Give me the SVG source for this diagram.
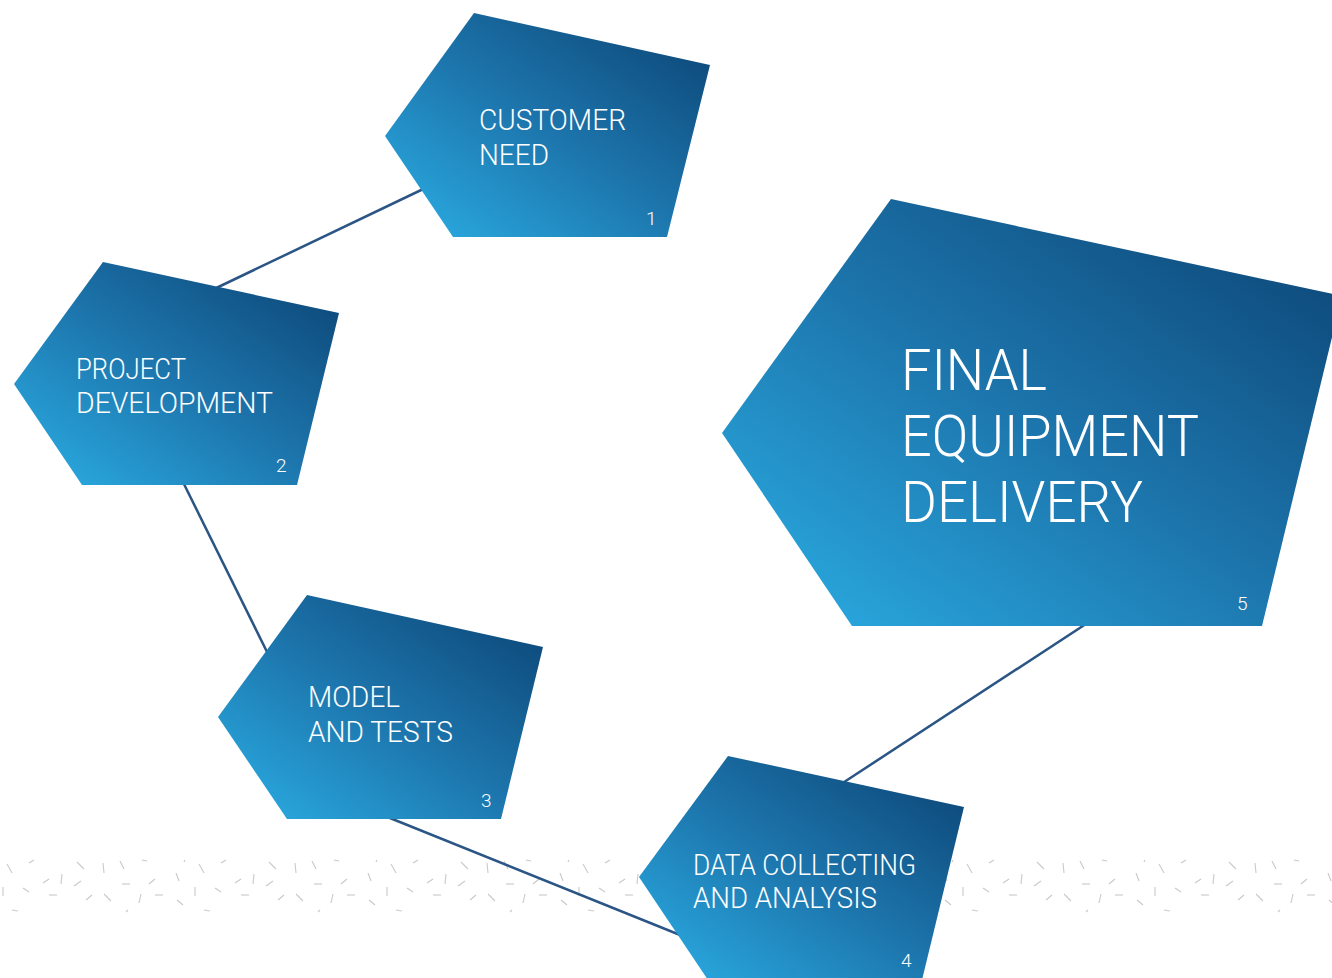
<svg xmlns="http://www.w3.org/2000/svg" width="1332" height="978" viewBox="0 0 1332 978">
<defs>
<linearGradient id="g" x1="0" y1="1" x2="1" y2="0">
<stop offset="0" stop-color="#2bb0e6"/>
<stop offset="0.5" stop-color="#1c74ab"/>
<stop offset="1" stop-color="#0b4171"/>
</linearGradient>
<pattern id="dash" patternUnits="userSpaceOnUse" x="0" y="850" width="192" height="70">
<g stroke="#c9c9c9" stroke-width="1.1" fill="none">
<line x1="7" y1="14" x2="12" y2="23"/>
<line x1="29" y1="13" x2="34" y2="10"/>
<line x1="3" y1="37" x2="3" y2="46"/>
<line x1="23" y1="38" x2="29" y2="42"/>
<line x1="43" y1="33" x2="49" y2="29"/>
<line x1="62" y1="24" x2="61" y2="34"/>
<line x1="49" y1="45" x2="57" y2="45"/>
<line x1="12" y1="60" x2="18" y2="61"/>
<line x1="77" y1="12" x2="84" y2="19"/>
<line x1="74" y1="36" x2="81" y2="31"/>
<line x1="86" y1="50" x2="92" y2="45"/>
<line x1="104" y1="44" x2="111" y2="51"/>
<line x1="103" y1="13" x2="104" y2="23"/>
<line x1="120" y1="11" x2="124" y2="19"/>
<line x1="122" y1="34" x2="130" y2="34"/>
<line x1="142" y1="10" x2="147" y2="11"/>
<line x1="149" y1="34" x2="155" y2="29"/>
<line x1="141" y1="44" x2="139" y2="53"/>
<line x1="126" y1="62" x2="128" y2="60"/>
<line x1="155" y1="45" x2="163" y2="45"/>
<line x1="176" y1="23" x2="179" y2="31"/>
<line x1="177" y1="50" x2="183" y2="55"/>
<line x1="184" y1="12" x2="185" y2="10"/>
</g>
</pattern>
</defs>
<style>
.n{fill:url(#g);}
.t{font-family:Roboto,"Liberation Sans",sans-serif;font-weight:300;fill:#ffffff;}
.m{font-size:29px;}
.b{font-size:57px;}
.k{font-size:19px;}
.c{stroke:#2a5584;stroke-width:2.5;fill:none;}
</style>
<rect width="1332" height="978" fill="#ffffff"/>
<rect x="0" y="850" width="1332" height="70" fill="url(#dash)"/>
<g id="connectors">
<line class="c" x1="210" y1="291" x2="440" y2="181"/>
<line class="c" x1="180" y1="476" x2="272" y2="662"/>
<line class="c" x1="380" y1="814" x2="690" y2="939"/>
<line class="c" x1="835" y1="788" x2="1095" y2="618"/>
</g>
<g id="node1">
<polygon class="n" points="474,13 710,65 667,237 453,237 385,136"/>
<text class="t m" x="479" y="130" textLength="147" lengthAdjust="spacingAndGlyphs">CUSTOMER</text>
<text class="t m" x="479" y="165" textLength="70" lengthAdjust="spacingAndGlyphs">NEED</text>
<text class="t k" x="646" y="225">1</text>
</g>
<g id="node2">
<polygon class="n" points="103,262 339,313 297,485 82,485 14,384"/>
<text class="t m" x="76" y="379" textLength="110" lengthAdjust="spacingAndGlyphs">PROJECT</text>
<text class="t m" x="76" y="413" textLength="197" lengthAdjust="spacingAndGlyphs">DEVELOPMENT</text>
<text class="t k" x="276" y="472">2</text>
</g>
<g id="node3">
<polygon class="n" points="307,595 543,647 501,819 287,819 218,717"/>
<text class="t m" x="308" y="707" textLength="92" lengthAdjust="spacingAndGlyphs">MODEL</text>
<text class="t m" x="308" y="742" textLength="145" lengthAdjust="spacingAndGlyphs">AND TESTS</text>
<text class="t k" x="481" y="807">3</text>
</g>
<g id="node4">
<polygon class="n" points="728,756 964,807 922,980 708,980 639,877"/>
<text class="t m" x="693" y="875" textLength="223" lengthAdjust="spacingAndGlyphs">DATA COLLECTING</text>
<text class="t m" x="693" y="908" textLength="184" lengthAdjust="spacingAndGlyphs">AND ANALYSIS</text>
<text class="t k" x="901" y="967">4</text>
</g>
<g id="node5">
<polygon class="n" points="891,199 1342,296 1262,626 852,626 722,433"/>
<text class="t b" x="901" y="390" textLength="146" lengthAdjust="spacingAndGlyphs">FINAL</text>
<text class="t b" x="901" y="456" textLength="298" lengthAdjust="spacingAndGlyphs">EQUIPMENT</text>
<text class="t b" x="901" y="522" textLength="242" lengthAdjust="spacingAndGlyphs">DELIVERY</text>
<text class="t k" x="1237" y="610">5</text>
</g>
</svg>
